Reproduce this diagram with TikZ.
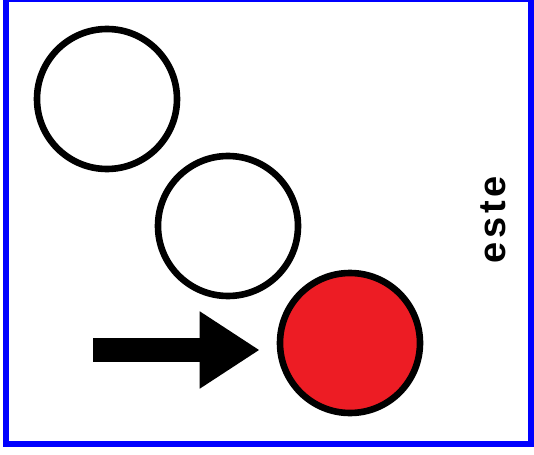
\documentclass[tikz,border=0pt]{standalone}
\usepackage{fontspec}
\setmainfont{Liberation Sans}
\usetikzlibrary{arrows.meta, positioning, calc}
\definecolor{frameblue}{RGB}{0,0,255}
\definecolor{ballred}{RGB}{237,28,36}
\newcommand{\gap}{\hspace{1.8pt}}
\begin{document}
\begin{tikzpicture}[
    x=0.5pt, y=-0.5pt,
    ring/.style={circle, draw, line width=3.3pt, minimum size=70pt, inner sep=0pt},
    redring/.style={ring, fill=ballred},
    frm/.style={draw=frameblue, line width=3pt},
    pointer/.style={line width=12pt, -{Triangle[length=30pt, width=36.5pt]}},
    lbl/.style={font=\bfseries\fontsize{19}{22}\selectfont, rotate=90, anchor=base, inner sep=0pt},
]
\useasboundingbox (0,0) rectangle (534,454);
% === Frame ===
\draw[frm] (6,-1) rectangle (531,444);
% === Circles ===
\foreach \i/\x/\y in {1/107/99, 2/228/226} {
    \node[ring] (c\i) at (\x,\y) {};
}
\node[redring] (c3) at (350,343) {};
% === Arrow ===
\coordinate (tail) at (93,350);
\draw[pointer] (tail) -- ($(c3.west |- tail)+(-17,0)$);
% === Side label ===
\node[lbl] (word) at (505,220) {e\gap s\gap t\gap e};
\end{tikzpicture}
\end{document}
